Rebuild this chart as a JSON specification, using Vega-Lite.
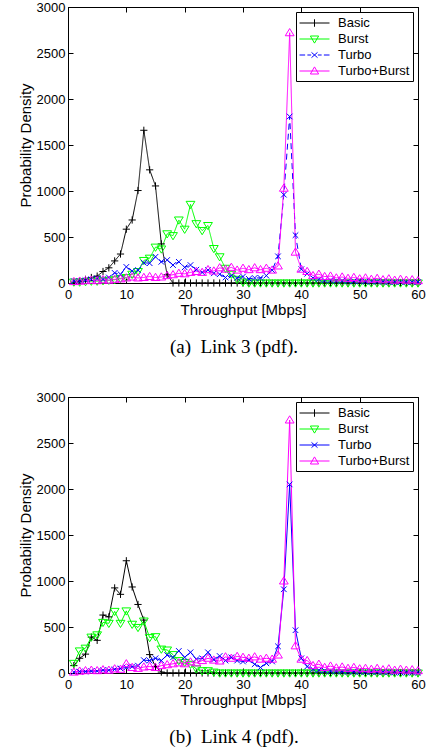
{
"$schema": "https://vega.github.io/schema/vega-lite/v6.json",
"background": "white",
"padding": {"top": 0, "left": 17, "right": 5, "bottom": 5},
"spacing": 32,
"datasets": {
"l3": [
{"x":1,"y":10,"s":"Basic"},{"x":2,"y":20,"s":"Basic"},{"x":3,"y":40,"s":"Basic"},{"x":4,"y":60,"s":"Basic"},{"x":5,"y":75,"s":"Basic"},{"x":6,"y":125,"s":"Basic"},{"x":7,"y":165,"s":"Basic"},{"x":8,"y":240,"s":"Basic"},{"x":9,"y":315,"s":"Basic"},{"x":10,"y":585,"s":"Basic"},
{"x":11,"y":685,"s":"Basic"},{"x":12,"y":1005,"s":"Basic"},{"x":13,"y":1660,"s":"Basic"},{"x":14,"y":1230,"s":"Basic"},{"x":15,"y":1055,"s":"Basic"},{"x":16,"y":425,"s":"Basic"},{"x":17,"y":90,"s":"Basic"},{"x":18,"y":0,"s":"Basic"},{"x":19,"y":0,"s":"Basic"},{"x":20,"y":0,"s":"Basic"},
{"x":21,"y":0,"s":"Basic"},{"x":22,"y":0,"s":"Basic"},{"x":23,"y":0,"s":"Basic"},{"x":24,"y":0,"s":"Basic"},{"x":25,"y":0,"s":"Basic"},{"x":26,"y":0,"s":"Basic"},{"x":27,"y":0,"s":"Basic"},{"x":28,"y":0,"s":"Basic"},{"x":29,"y":0,"s":"Basic"},{"x":30,"y":0,"s":"Basic"},
{"x":31,"y":0,"s":"Basic"},{"x":32,"y":0,"s":"Basic"},{"x":33,"y":0,"s":"Basic"},{"x":34,"y":0,"s":"Basic"},{"x":35,"y":0,"s":"Basic"},{"x":36,"y":0,"s":"Basic"},{"x":37,"y":0,"s":"Basic"},{"x":38,"y":0,"s":"Basic"},{"x":39,"y":0,"s":"Basic"},{"x":40,"y":0,"s":"Basic"},
{"x":41,"y":0,"s":"Basic"},{"x":42,"y":0,"s":"Basic"},{"x":43,"y":0,"s":"Basic"},{"x":44,"y":0,"s":"Basic"},{"x":45,"y":0,"s":"Basic"},{"x":46,"y":0,"s":"Basic"},{"x":47,"y":0,"s":"Basic"},{"x":48,"y":0,"s":"Basic"},{"x":49,"y":0,"s":"Basic"},{"x":50,"y":0,"s":"Basic"},
{"x":51,"y":0,"s":"Basic"},{"x":52,"y":0,"s":"Basic"},{"x":53,"y":0,"s":"Basic"},{"x":54,"y":0,"s":"Basic"},{"x":55,"y":0,"s":"Basic"},{"x":56,"y":0,"s":"Basic"},{"x":57,"y":0,"s":"Basic"},{"x":58,"y":0,"s":"Basic"},{"x":59,"y":0,"s":"Basic"},{"x":60,"y":0,"s":"Basic"},
{"x":1,"y":10,"s":"Burst"},{"x":2,"y":10,"s":"Burst"},{"x":3,"y":15,"s":"Burst"},{"x":4,"y":20,"s":"Burst"},{"x":5,"y":20,"s":"Burst"},{"x":6,"y":25,"s":"Burst"},{"x":7,"y":30,"s":"Burst"},{"x":8,"y":35,"s":"Burst"},{"x":9,"y":50,"s":"Burst"},{"x":10,"y":60,"s":"Burst"},
{"x":11,"y":95,"s":"Burst"},{"x":12,"y":125,"s":"Burst"},{"x":13,"y":245,"s":"Burst"},{"x":14,"y":270,"s":"Burst"},{"x":15,"y":390,"s":"Burst"},{"x":16,"y":370,"s":"Burst"},{"x":17,"y":535,"s":"Burst"},{"x":18,"y":515,"s":"Burst"},{"x":19,"y":685,"s":"Burst"},{"x":20,"y":585,"s":"Burst"},
{"x":21,"y":855,"s":"Burst"},{"x":22,"y":645,"s":"Burst"},{"x":23,"y":570,"s":"Burst"},{"x":24,"y":625,"s":"Burst"},{"x":25,"y":375,"s":"Burst"},{"x":26,"y":285,"s":"Burst"},{"x":27,"y":160,"s":"Burst"},{"x":28,"y":95,"s":"Burst"},{"x":29,"y":40,"s":"Burst"},{"x":30,"y":10,"s":"Burst"},
{"x":31,"y":0,"s":"Burst"},{"x":32,"y":0,"s":"Burst"},{"x":33,"y":0,"s":"Burst"},{"x":34,"y":0,"s":"Burst"},{"x":35,"y":0,"s":"Burst"},{"x":36,"y":0,"s":"Burst"},{"x":37,"y":0,"s":"Burst"},{"x":38,"y":0,"s":"Burst"},{"x":39,"y":0,"s":"Burst"},{"x":40,"y":0,"s":"Burst"},
{"x":41,"y":0,"s":"Burst"},{"x":42,"y":0,"s":"Burst"},{"x":43,"y":0,"s":"Burst"},{"x":44,"y":0,"s":"Burst"},{"x":45,"y":0,"s":"Burst"},{"x":46,"y":0,"s":"Burst"},{"x":47,"y":0,"s":"Burst"},{"x":48,"y":0,"s":"Burst"},{"x":49,"y":0,"s":"Burst"},{"x":50,"y":0,"s":"Burst"},
{"x":51,"y":0,"s":"Burst"},{"x":52,"y":0,"s":"Burst"},{"x":53,"y":0,"s":"Burst"},{"x":54,"y":0,"s":"Burst"},{"x":55,"y":0,"s":"Burst"},{"x":56,"y":0,"s":"Burst"},{"x":57,"y":0,"s":"Burst"},{"x":58,"y":0,"s":"Burst"},{"x":59,"y":0,"s":"Burst"},{"x":60,"y":0,"s":"Burst"},
{"x":1,"y":20,"s":"Turbo"},{"x":2,"y":20,"s":"Turbo"},{"x":3,"y":30,"s":"Turbo"},{"x":4,"y":40,"s":"Turbo"},{"x":5,"y":50,"s":"Turbo"},{"x":6,"y":40,"s":"Turbo"},{"x":7,"y":60,"s":"Turbo"},{"x":8,"y":110,"s":"Turbo"},{"x":9,"y":95,"s":"Turbo"},{"x":10,"y":175,"s":"Turbo"},
{"x":11,"y":130,"s":"Turbo"},{"x":12,"y":140,"s":"Turbo"},{"x":13,"y":220,"s":"Turbo"},{"x":14,"y":215,"s":"Turbo"},{"x":15,"y":285,"s":"Turbo"},{"x":16,"y":230,"s":"Turbo"},{"x":17,"y":250,"s":"Turbo"},{"x":18,"y":195,"s":"Turbo"},{"x":19,"y":230,"s":"Turbo"},{"x":20,"y":170,"s":"Turbo"},
{"x":21,"y":195,"s":"Turbo"},{"x":22,"y":145,"s":"Turbo"},{"x":23,"y":115,"s":"Turbo"},{"x":24,"y":140,"s":"Turbo"},{"x":25,"y":105,"s":"Turbo"},{"x":26,"y":95,"s":"Turbo"},{"x":27,"y":60,"s":"Turbo"},{"x":28,"y":80,"s":"Turbo"},{"x":29,"y":55,"s":"Turbo"},{"x":30,"y":70,"s":"Turbo"},
{"x":31,"y":45,"s":"Turbo"},{"x":32,"y":55,"s":"Turbo"},{"x":33,"y":55,"s":"Turbo"},{"x":34,"y":80,"s":"Turbo"},{"x":35,"y":140,"s":"Turbo"},{"x":36,"y":290,"s":"Turbo"},{"x":37,"y":960,"s":"Turbo"},{"x":38,"y":1810,"s":"Turbo"},{"x":39,"y":520,"s":"Turbo"},{"x":40,"y":150,"s":"Turbo"},
{"x":41,"y":100,"s":"Turbo"},{"x":42,"y":55,"s":"Turbo"},{"x":43,"y":40,"s":"Turbo"},{"x":44,"y":30,"s":"Turbo"},{"x":45,"y":30,"s":"Turbo"},{"x":46,"y":25,"s":"Turbo"},{"x":47,"y":25,"s":"Turbo"},{"x":48,"y":20,"s":"Turbo"},{"x":49,"y":20,"s":"Turbo"},{"x":50,"y":20,"s":"Turbo"},
{"x":51,"y":15,"s":"Turbo"},{"x":52,"y":15,"s":"Turbo"},{"x":53,"y":15,"s":"Turbo"},{"x":54,"y":15,"s":"Turbo"},{"x":55,"y":10,"s":"Turbo"},{"x":56,"y":10,"s":"Turbo"},{"x":57,"y":10,"s":"Turbo"},{"x":58,"y":10,"s":"Turbo"},{"x":59,"y":10,"s":"Turbo"},{"x":60,"y":10,"s":"Turbo"},
{"x":1,"y":15,"s":"Turbo+Burst"},{"x":2,"y":20,"s":"Turbo+Burst"},{"x":3,"y":25,"s":"Turbo+Burst"},{"x":4,"y":30,"s":"Turbo+Burst"},{"x":5,"y":25,"s":"Turbo+Burst"},{"x":6,"y":35,"s":"Turbo+Burst"},{"x":7,"y":30,"s":"Turbo+Burst"},{"x":8,"y":40,"s":"Turbo+Burst"},{"x":9,"y":45,"s":"Turbo+Burst"},{"x":10,"y":55,"s":"Turbo+Burst"},
{"x":11,"y":65,"s":"Turbo+Burst"},{"x":12,"y":55,"s":"Turbo+Burst"},{"x":13,"y":60,"s":"Turbo+Burst"},{"x":14,"y":70,"s":"Turbo+Burst"},{"x":15,"y":60,"s":"Turbo+Burst"},{"x":16,"y":65,"s":"Turbo+Burst"},{"x":17,"y":80,"s":"Turbo+Burst"},{"x":18,"y":90,"s":"Turbo+Burst"},{"x":19,"y":105,"s":"Turbo+Burst"},{"x":20,"y":100,"s":"Turbo+Burst"},
{"x":21,"y":115,"s":"Turbo+Burst"},{"x":22,"y":125,"s":"Turbo+Burst"},{"x":23,"y":115,"s":"Turbo+Burst"},{"x":24,"y":145,"s":"Turbo+Burst"},{"x":25,"y":130,"s":"Turbo+Burst"},{"x":26,"y":165,"s":"Turbo+Burst"},{"x":27,"y":150,"s":"Turbo+Burst"},{"x":28,"y":170,"s":"Turbo+Burst"},{"x":29,"y":140,"s":"Turbo+Burst"},{"x":30,"y":160,"s":"Turbo+Burst"},
{"x":31,"y":145,"s":"Turbo+Burst"},{"x":32,"y":165,"s":"Turbo+Burst"},{"x":33,"y":145,"s":"Turbo+Burst"},{"x":34,"y":160,"s":"Turbo+Burst"},{"x":35,"y":140,"s":"Turbo+Burst"},{"x":36,"y":185,"s":"Turbo+Burst"},{"x":37,"y":1030,"s":"Turbo+Burst"},{"x":38,"y":2720,"s":"Turbo+Burst"},{"x":39,"y":335,"s":"Turbo+Burst"},{"x":40,"y":150,"s":"Turbo+Burst"},
{"x":41,"y":125,"s":"Turbo+Burst"},{"x":42,"y":80,"s":"Turbo+Burst"},{"x":43,"y":95,"s":"Turbo+Burst"},{"x":44,"y":70,"s":"Turbo+Burst"},{"x":45,"y":75,"s":"Turbo+Burst"},{"x":46,"y":55,"s":"Turbo+Burst"},{"x":47,"y":65,"s":"Turbo+Burst"},{"x":48,"y":50,"s":"Turbo+Burst"},{"x":49,"y":60,"s":"Turbo+Burst"},{"x":50,"y":45,"s":"Turbo+Burst"},
{"x":51,"y":55,"s":"Turbo+Burst"},{"x":52,"y":40,"s":"Turbo+Burst"},{"x":53,"y":50,"s":"Turbo+Burst"},{"x":54,"y":35,"s":"Turbo+Burst"},{"x":55,"y":45,"s":"Turbo+Burst"},{"x":56,"y":30,"s":"Turbo+Burst"},{"x":57,"y":40,"s":"Turbo+Burst"},{"x":58,"y":30,"s":"Turbo+Burst"},{"x":59,"y":35,"s":"Turbo+Burst"},{"x":60,"y":25,"s":"Turbo+Burst"}
],
"l4": [
{"x":1,"y":80,"s":"Basic"},{"x":2,"y":160,"s":"Basic"},{"x":3,"y":205,"s":"Basic"},{"x":4,"y":390,"s":"Basic"},{"x":5,"y":355,"s":"Basic"},{"x":6,"y":630,"s":"Basic"},{"x":7,"y":610,"s":"Basic"},{"x":8,"y":925,"s":"Basic"},{"x":9,"y":855,"s":"Basic"},{"x":10,"y":1220,"s":"Basic"},
{"x":11,"y":935,"s":"Basic"},{"x":12,"y":745,"s":"Basic"},{"x":13,"y":575,"s":"Basic"},{"x":14,"y":200,"s":"Basic"},{"x":15,"y":70,"s":"Basic"},{"x":16,"y":10,"s":"Basic"},{"x":17,"y":0,"s":"Basic"},{"x":18,"y":0,"s":"Basic"},{"x":19,"y":0,"s":"Basic"},{"x":20,"y":0,"s":"Basic"},
{"x":21,"y":0,"s":"Basic"},{"x":22,"y":0,"s":"Basic"},{"x":23,"y":0,"s":"Basic"},{"x":24,"y":0,"s":"Basic"},{"x":25,"y":0,"s":"Basic"},{"x":26,"y":0,"s":"Basic"},{"x":27,"y":0,"s":"Basic"},{"x":28,"y":0,"s":"Basic"},{"x":29,"y":0,"s":"Basic"},{"x":30,"y":0,"s":"Basic"},
{"x":31,"y":0,"s":"Basic"},{"x":32,"y":0,"s":"Basic"},{"x":33,"y":0,"s":"Basic"},{"x":34,"y":0,"s":"Basic"},{"x":35,"y":0,"s":"Basic"},{"x":36,"y":0,"s":"Basic"},{"x":37,"y":0,"s":"Basic"},{"x":38,"y":0,"s":"Basic"},{"x":39,"y":0,"s":"Basic"},{"x":40,"y":0,"s":"Basic"},
{"x":41,"y":0,"s":"Basic"},{"x":42,"y":0,"s":"Basic"},{"x":43,"y":0,"s":"Basic"},{"x":44,"y":0,"s":"Basic"},{"x":45,"y":0,"s":"Basic"},{"x":46,"y":0,"s":"Basic"},{"x":47,"y":0,"s":"Basic"},{"x":48,"y":0,"s":"Basic"},{"x":49,"y":0,"s":"Basic"},{"x":50,"y":0,"s":"Basic"},
{"x":51,"y":0,"s":"Basic"},{"x":52,"y":0,"s":"Basic"},{"x":53,"y":0,"s":"Basic"},{"x":54,"y":0,"s":"Basic"},{"x":55,"y":0,"s":"Basic"},{"x":56,"y":0,"s":"Basic"},{"x":57,"y":0,"s":"Basic"},{"x":58,"y":0,"s":"Basic"},{"x":59,"y":0,"s":"Basic"},{"x":60,"y":0,"s":"Basic"},
{"x":1,"y":105,"s":"Burst"},{"x":2,"y":240,"s":"Burst"},{"x":3,"y":270,"s":"Burst"},{"x":4,"y":390,"s":"Burst"},{"x":5,"y":415,"s":"Burst"},{"x":6,"y":550,"s":"Burst"},{"x":7,"y":540,"s":"Burst"},{"x":8,"y":670,"s":"Burst"},{"x":9,"y":540,"s":"Burst"},{"x":10,"y":675,"s":"Burst"},
{"x":11,"y":530,"s":"Burst"},{"x":12,"y":495,"s":"Burst"},{"x":13,"y":565,"s":"Burst"},{"x":14,"y":385,"s":"Burst"},{"x":15,"y":395,"s":"Burst"},{"x":16,"y":260,"s":"Burst"},{"x":17,"y":250,"s":"Burst"},{"x":18,"y":200,"s":"Burst"},{"x":19,"y":135,"s":"Burst"},{"x":20,"y":115,"s":"Burst"},
{"x":21,"y":95,"s":"Burst"},{"x":22,"y":45,"s":"Burst"},{"x":23,"y":25,"s":"Burst"},{"x":24,"y":25,"s":"Burst"},{"x":25,"y":10,"s":"Burst"},{"x":26,"y":0,"s":"Burst"},{"x":27,"y":0,"s":"Burst"},{"x":28,"y":0,"s":"Burst"},{"x":29,"y":0,"s":"Burst"},{"x":30,"y":0,"s":"Burst"},
{"x":31,"y":0,"s":"Burst"},{"x":32,"y":0,"s":"Burst"},{"x":33,"y":0,"s":"Burst"},{"x":34,"y":0,"s":"Burst"},{"x":35,"y":0,"s":"Burst"},{"x":36,"y":0,"s":"Burst"},{"x":37,"y":0,"s":"Burst"},{"x":38,"y":0,"s":"Burst"},{"x":39,"y":0,"s":"Burst"},{"x":40,"y":0,"s":"Burst"},
{"x":41,"y":0,"s":"Burst"},{"x":42,"y":0,"s":"Burst"},{"x":43,"y":0,"s":"Burst"},{"x":44,"y":0,"s":"Burst"},{"x":45,"y":0,"s":"Burst"},{"x":46,"y":0,"s":"Burst"},{"x":47,"y":0,"s":"Burst"},{"x":48,"y":0,"s":"Burst"},{"x":49,"y":0,"s":"Burst"},{"x":50,"y":0,"s":"Burst"},
{"x":51,"y":0,"s":"Burst"},{"x":52,"y":0,"s":"Burst"},{"x":53,"y":0,"s":"Burst"},{"x":54,"y":0,"s":"Burst"},{"x":55,"y":0,"s":"Burst"},{"x":56,"y":0,"s":"Burst"},{"x":57,"y":0,"s":"Burst"},{"x":58,"y":0,"s":"Burst"},{"x":59,"y":0,"s":"Burst"},{"x":60,"y":0,"s":"Burst"},
{"x":1,"y":10,"s":"Turbo"},{"x":2,"y":15,"s":"Turbo"},{"x":3,"y":15,"s":"Turbo"},{"x":4,"y":20,"s":"Turbo"},{"x":5,"y":20,"s":"Turbo"},{"x":6,"y":30,"s":"Turbo"},{"x":7,"y":30,"s":"Turbo"},{"x":8,"y":40,"s":"Turbo"},{"x":9,"y":50,"s":"Turbo"},{"x":10,"y":60,"s":"Turbo"},
{"x":11,"y":70,"s":"Turbo"},{"x":12,"y":80,"s":"Turbo"},{"x":13,"y":140,"s":"Turbo"},{"x":14,"y":135,"s":"Turbo"},{"x":15,"y":160,"s":"Turbo"},{"x":16,"y":135,"s":"Turbo"},{"x":17,"y":195,"s":"Turbo"},{"x":18,"y":170,"s":"Turbo"},{"x":19,"y":240,"s":"Turbo"},{"x":20,"y":170,"s":"Turbo"},
{"x":21,"y":225,"s":"Turbo"},{"x":22,"y":150,"s":"Turbo"},{"x":23,"y":160,"s":"Turbo"},{"x":24,"y":225,"s":"Turbo"},{"x":25,"y":145,"s":"Turbo"},{"x":26,"y":185,"s":"Turbo"},{"x":27,"y":135,"s":"Turbo"},{"x":28,"y":170,"s":"Turbo"},{"x":29,"y":135,"s":"Turbo"},{"x":30,"y":125,"s":"Turbo"},
{"x":31,"y":140,"s":"Turbo"},{"x":32,"y":95,"s":"Turbo"},{"x":33,"y":60,"s":"Turbo"},{"x":34,"y":105,"s":"Turbo"},{"x":35,"y":125,"s":"Turbo"},{"x":36,"y":290,"s":"Turbo"},{"x":37,"y":910,"s":"Turbo"},{"x":38,"y":2050,"s":"Turbo"},{"x":39,"y":465,"s":"Turbo"},{"x":40,"y":160,"s":"Turbo"},
{"x":41,"y":70,"s":"Turbo"},{"x":42,"y":40,"s":"Turbo"},{"x":43,"y":30,"s":"Turbo"},{"x":44,"y":25,"s":"Turbo"},{"x":45,"y":20,"s":"Turbo"},{"x":46,"y":20,"s":"Turbo"},{"x":47,"y":15,"s":"Turbo"},{"x":48,"y":15,"s":"Turbo"},{"x":49,"y":15,"s":"Turbo"},{"x":50,"y":10,"s":"Turbo"},
{"x":51,"y":10,"s":"Turbo"},{"x":52,"y":10,"s":"Turbo"},{"x":53,"y":10,"s":"Turbo"},{"x":54,"y":10,"s":"Turbo"},{"x":55,"y":10,"s":"Turbo"},{"x":56,"y":5,"s":"Turbo"},{"x":57,"y":5,"s":"Turbo"},{"x":58,"y":5,"s":"Turbo"},{"x":59,"y":5,"s":"Turbo"},{"x":60,"y":5,"s":"Turbo"},
{"x":1,"y":10,"s":"Turbo+Burst"},{"x":2,"y":20,"s":"Turbo+Burst"},{"x":3,"y":25,"s":"Turbo+Burst"},{"x":4,"y":30,"s":"Turbo+Burst"},{"x":5,"y":25,"s":"Turbo+Burst"},{"x":6,"y":35,"s":"Turbo+Burst"},{"x":7,"y":30,"s":"Turbo+Burst"},{"x":8,"y":45,"s":"Turbo+Burst"},{"x":9,"y":40,"s":"Turbo+Burst"},{"x":10,"y":100,"s":"Turbo+Burst"},
{"x":11,"y":60,"s":"Turbo+Burst"},{"x":12,"y":50,"s":"Turbo+Burst"},{"x":13,"y":65,"s":"Turbo+Burst"},{"x":14,"y":70,"s":"Turbo+Burst"},{"x":15,"y":60,"s":"Turbo+Burst"},{"x":16,"y":80,"s":"Turbo+Burst"},{"x":17,"y":90,"s":"Turbo+Burst"},{"x":18,"y":100,"s":"Turbo+Burst"},{"x":19,"y":110,"s":"Turbo+Burst"},{"x":20,"y":100,"s":"Turbo+Burst"},
{"x":21,"y":120,"s":"Turbo+Burst"},{"x":22,"y":110,"s":"Turbo+Burst"},{"x":23,"y":135,"s":"Turbo+Burst"},{"x":24,"y":160,"s":"Turbo+Burst"},{"x":25,"y":140,"s":"Turbo+Burst"},{"x":26,"y":130,"s":"Turbo+Burst"},{"x":27,"y":175,"s":"Turbo+Burst"},{"x":28,"y":160,"s":"Turbo+Burst"},{"x":29,"y":180,"s":"Turbo+Burst"},{"x":30,"y":170,"s":"Turbo+Burst"},
{"x":31,"y":160,"s":"Turbo+Burst"},{"x":32,"y":175,"s":"Turbo+Burst"},{"x":33,"y":150,"s":"Turbo+Burst"},{"x":34,"y":160,"s":"Turbo+Burst"},{"x":35,"y":150,"s":"Turbo+Burst"},{"x":36,"y":195,"s":"Turbo+Burst"},{"x":37,"y":1000,"s":"Turbo+Burst"},{"x":38,"y":2750,"s":"Turbo+Burst"},{"x":39,"y":295,"s":"Turbo+Burst"},{"x":40,"y":150,"s":"Turbo+Burst"},
{"x":41,"y":135,"s":"Turbo+Burst"},{"x":42,"y":80,"s":"Turbo+Burst"},{"x":43,"y":95,"s":"Turbo+Burst"},{"x":44,"y":60,"s":"Turbo+Burst"},{"x":45,"y":75,"s":"Turbo+Burst"},{"x":46,"y":55,"s":"Turbo+Burst"},{"x":47,"y":65,"s":"Turbo+Burst"},{"x":48,"y":50,"s":"Turbo+Burst"},{"x":49,"y":60,"s":"Turbo+Burst"},{"x":50,"y":45,"s":"Turbo+Burst"},
{"x":51,"y":50,"s":"Turbo+Burst"},{"x":52,"y":40,"s":"Turbo+Burst"},{"x":53,"y":50,"s":"Turbo+Burst"},{"x":54,"y":35,"s":"Turbo+Burst"},{"x":55,"y":45,"s":"Turbo+Burst"},{"x":56,"y":30,"s":"Turbo+Burst"},{"x":57,"y":40,"s":"Turbo+Burst"},{"x":58,"y":30,"s":"Turbo+Burst"},{"x":59,"y":35,"s":"Turbo+Burst"},{"x":60,"y":25,"s":"Turbo+Burst"}
]
},
"vconcat": [
{
"width": 350, "height": 276,
"data": {"name": "l3"},
"title": {"text": "(a)\u00a0\u00a0Link 3 (pdf).", "orient": "bottom", "frame": "group", "anchor": "middle", "dx": -9, "offset": 21, "font": "Liberation Serif", "fontSize": 19, "fontWeight": "normal", "color": "black"},
"layer": [
{"mark": {"type": "line", "strokeWidth": 1},
 "encoding": {
  "x": {"field": "x", "type": "quantitative", "scale": {"domain": [0, 60], "nice": false}, "axis": {"orient": "bottom", "values": [0,10,20,30,40,50,60], "title": "Throughput [Mbps]"}},
  "y": {"field": "y", "type": "quantitative", "scale": {"domain": [0, 3000], "nice": false}, "axis": {"orient": "left", "values": [0,500,1000,1500,2000,2500,3000], "format": "d", "title": "Probability Density"}},
  "color": {"field": "s", "type": "nominal", "scale": {"domain": ["Basic","Burst","Turbo","Turbo+Burst"], "range": ["#000000","#00ff00","#0000ff","#ff00ff"]}, "legend": null},
  "strokeDash": {"field": "s", "type": "nominal", "scale": {"domain": ["Basic","Burst","Turbo","Turbo+Burst"], "range": [[1,0],[1,0],[6,4],[1,0]]}, "legend": null}
 }},
{"mark": {"type": "point", "filled": false, "strokeWidth": 1, "size": 64, "opacity": 1},
 "encoding": {
  "x": {"field": "x", "type": "quantitative", "axis": {"orient": "top", "values": [0,10,20,30,40,50,60], "labels": false, "title": null}},
  "y": {"field": "y", "type": "quantitative", "axis": {"orient": "right", "values": [0,500,1000,1500,2000,2500,3000], "labels": false, "title": null}},
  "color": {"field": "s", "type": "nominal", "scale": {"domain": ["Basic","Burst","Turbo","Turbo+Burst"], "range": ["#000000","#00ff00","#0000ff","#ff00ff"]}, "legend": null},
  "shape": {"field": "s", "type": "nominal", "scale": {"domain": ["Basic","Burst","Turbo","Turbo+Burst"], "range": ["M-0.9,0H0.9M0,-0.9V0.9","M-1.1,-0.75L1.1,-0.75L0,1.05Z","M-0.7,-0.7L0.7,0.7M-0.7,0.7L0.7,-0.7","M-1.1,0.75L1.1,0.75L0,-1.05Z"]}, "legend": null}
 }},
{"mark": {"type": "point", "filled": false, "opacity": 0},
 "encoding": {
  "x": {"field": "x", "type": "quantitative", "axis": null},
  "y": {"field": "y", "type": "quantitative", "axis": null},
  "color": {"field": "s", "type": "nominal", "scale": {"domain": ["Basic","Burst","Turbo","Turbo+Burst"], "range": ["#000000","#00ff00","#0000ff","#ff00ff"]},
   "legend": {"title": null, "orient": "top-right", "offset": 5, "padding": 3, "rowPadding": 1, "strokeColor": "black", "fillColor": "white", "symbolSize": 225, "symbolStrokeWidth": 1, "symbolOpacity": 1, "labelFont": "Liberation Sans", "labelFontSize": 13, "labelColor": "black", "labelOffset": 23}},
  "shape": {"field": "s", "type": "nominal", "scale": {"domain": ["Basic","Burst","Turbo","Turbo+Burst"], "range": ["M-1,0H3M1,-0.5V0.5","M-1,0H3M0.45,-0.4L1.55,-0.4L1,0.55Z","M-1,0H-0.25M0.05,0H0.55M0.6,-0.35L1.4,0.35M0.6,0.35L1.4,-0.35M1.45,0H1.95M2.25,0H3","M-1,0H3M0.45,0.4L1.55,0.4L1,-0.55Z"]},
   "legend": {"title": null, "orient": "top-right", "offset": 5, "padding": 3, "rowPadding": 1, "strokeColor": "black", "fillColor": "white", "symbolSize": 225, "symbolStrokeWidth": 1, "symbolOpacity": 1, "labelFont": "Liberation Sans", "labelFontSize": 13, "labelColor": "black", "labelOffset": 23}}
 }}
],
"resolve": {"scale": {"color": "independent", "shape": "independent", "strokeDash": "independent"}, "axis": {"x": "independent", "y": "independent"}}
},
{
"width": 350, "height": 276,
"data": {"name": "l4"},
"title": {"text": "(b)\u00a0\u00a0Link 4 (pdf).", "orient": "bottom", "frame": "group", "anchor": "middle", "dx": -9, "offset": 21, "font": "Liberation Serif", "fontSize": 19, "fontWeight": "normal", "color": "black"},
"layer": [
{"mark": {"type": "line", "strokeWidth": 1},
 "encoding": {
  "x": {"field": "x", "type": "quantitative", "scale": {"domain": [0, 60], "nice": false}, "axis": {"orient": "bottom", "values": [0,10,20,30,40,50,60], "title": "Throughput [Mbps]"}},
  "y": {"field": "y", "type": "quantitative", "scale": {"domain": [0, 3000], "nice": false}, "axis": {"orient": "left", "values": [0,500,1000,1500,2000,2500,3000], "format": "d", "title": "Probability Density"}},
  "color": {"field": "s", "type": "nominal", "scale": {"domain": ["Basic","Burst","Turbo","Turbo+Burst"], "range": ["#000000","#00ff00","#0000ff","#ff00ff"]}, "legend": null}
 }},
{"mark": {"type": "point", "filled": false, "strokeWidth": 1, "size": 64, "opacity": 1},
 "encoding": {
  "x": {"field": "x", "type": "quantitative", "axis": {"orient": "top", "values": [0,10,20,30,40,50,60], "labels": false, "title": null}},
  "y": {"field": "y", "type": "quantitative", "axis": {"orient": "right", "values": [0,500,1000,1500,2000,2500,3000], "labels": false, "title": null}},
  "color": {"field": "s", "type": "nominal", "scale": {"domain": ["Basic","Burst","Turbo","Turbo+Burst"], "range": ["#000000","#00ff00","#0000ff","#ff00ff"]}, "legend": null},
  "shape": {"field": "s", "type": "nominal", "scale": {"domain": ["Basic","Burst","Turbo","Turbo+Burst"], "range": ["M-0.9,0H0.9M0,-0.9V0.9","M-1.1,-0.75L1.1,-0.75L0,1.05Z","M-0.7,-0.7L0.7,0.7M-0.7,0.7L0.7,-0.7","M-1.1,0.75L1.1,0.75L0,-1.05Z"]}, "legend": null}
 }},
{"mark": {"type": "point", "filled": false, "opacity": 0},
 "encoding": {
  "x": {"field": "x", "type": "quantitative", "axis": null},
  "y": {"field": "y", "type": "quantitative", "axis": null},
  "color": {"field": "s", "type": "nominal", "scale": {"domain": ["Basic","Burst","Turbo","Turbo+Burst"], "range": ["#000000","#00ff00","#0000ff","#ff00ff"]},
   "legend": {"title": null, "orient": "top-right", "offset": 5, "padding": 3, "rowPadding": 1, "strokeColor": "black", "fillColor": "white", "symbolSize": 225, "symbolStrokeWidth": 1, "symbolOpacity": 1, "labelFont": "Liberation Sans", "labelFontSize": 13, "labelColor": "black", "labelOffset": 23}},
  "shape": {"field": "s", "type": "nominal", "scale": {"domain": ["Basic","Burst","Turbo","Turbo+Burst"], "range": ["M-1,0H3M1,-0.5V0.5","M-1,0H3M0.45,-0.4L1.55,-0.4L1,0.55Z","M-1,0H3M0.6,-0.35L1.4,0.35M0.6,0.35L1.4,-0.35","M-1,0H3M0.45,0.4L1.55,0.4L1,-0.55Z"]},
   "legend": {"title": null, "orient": "top-right", "offset": 5, "padding": 3, "rowPadding": 1, "strokeColor": "black", "fillColor": "white", "symbolSize": 225, "symbolStrokeWidth": 1, "symbolOpacity": 1, "labelFont": "Liberation Sans", "labelFontSize": 13, "labelColor": "black", "labelOffset": 23}}
 }}
],
"resolve": {"scale": {"color": "independent", "shape": "independent", "strokeDash": "independent"}, "axis": {"x": "independent", "y": "independent"}}
}
],
"resolve": {"scale": {"color": "independent", "shape": "independent", "strokeDash": "independent", "x": "independent", "y": "independent"}},
"config": {
 "view": {"stroke": "black", "strokeWidth": 1},
 "axis": {"grid": false, "labelFont": "Liberation Sans", "labelFontSize": 13, "labelColor": "black", "labelFlush": false, "labelOverlap": false, "titleFont": "Liberation Sans", "titleFontSize": 15, "titleFontWeight": "normal", "titleColor": "black", "domainColor": "black", "domainWidth": 1, "tickColor": "black", "tickWidth": 1, "tickSize": -5, "labelPadding": 9},
 "axisX": {"labelPadding": 10, "titlePadding": 1},
 "axisY": {"labelPadding": 8, "titlePadding": 3}
}
}
